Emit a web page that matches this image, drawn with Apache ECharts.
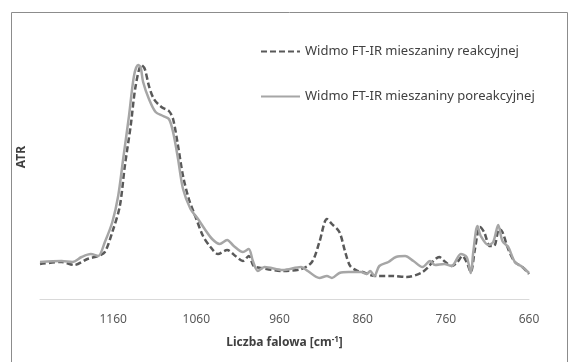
<!DOCTYPE html>
<html>
<head>
<meta charset="utf-8">
<script src="https://cdn.jsdelivr.net/npm/echarts@6/dist/echarts.min.js"></script>
<style>
html,body{margin:0;padding:0;background:#fff;}
#c{width:569px;height:362px;}
</style>
</head>
<body>
<div id="c"></div>
<script>
// Wavenumber ticks shown on the axis
var tickLabels = [1160, 1060, 960, 860, 760, 660];

// Series 1: Widmo FT-IR mieszaniny reakcyjnej (dashed)
var reakWn = [1248,1222,1207,1191,1178,1170,1161,1152,1146,1139,1133,1126,1122,1117,1111,1102,1093,1088,1082,1076,1069,1060,1052,1043,1034,1023,1013,1004,997,991,982,956,934,921,912,903,897,888,881,875,866,860,851,842,825,807,790,781,775,768,762,753,746,740,735,730,725,719,714,707,702,696,692,685,677,668,660];
var reakVal = [35,37,34,40,43,47,67,93,133,173,213,234,230,213,200,192,188,180,153,123,100,80,63,52,45,49,43,38,43,33,31,28,30,37,57,80,75,67,47,33,28,27,24,23,23,22,26,32,38,42,38,33,37,43,37,27,50,72,67,53,53,70,67,50,37,32,25];

// Series 2: Widmo FT-IR mieszaniny poreakcyjnej (solid)
var poreWn = [1248,1222,1209,1198,1187,1178,1170,1161,1154,1148,1141,1135,1130,1127,1124,1117,1109,1100,1093,1088,1082,1076,1067,1058,1050,1041,1032,1023,1015,1004,997,992,986,978,956,934,926,912,903,897,888,877,862,855,851,846,840,829,820,809,799,788,779,773,762,753,742,735,730,727,722,718,709,703,697,692,685,677,668,660];
var poreVal = [37,38,37,42,45,43,57,77,103,140,183,223,234,232,217,200,187,183,180,167,140,110,90,80,70,60,55,59,53,47,50,38,28,32,29,32,28,21,23,21,26,27,27,25,28,23,33,37,42,43,38,32,38,34,35,33,45,42,26,47,73,63,54,57,74,58,52,37,32,26];

var seriesNames = ['Widmo FT-IR mieszaniny reakcyjnej', 'Widmo FT-IR mieszaniny poreakcyjnej'];

function zip(a, b) { return a.map(function (x, i) { return [x, b[i]]; }); }

var chart = echarts.init(document.getElementById('c'), null, {renderer: 'canvas'});
var font = '"Noto Sans", "Open Sans", sans-serif';
var legendCommon = {
  left: 255, itemWidth: 39, itemHeight: 14, itemGap: 0,
  itemStyle: {opacity: 0, borderWidth: 0},
  textStyle: {fontFamily: font, fontSize: 13, color: '#404040'}
};
chart.setOption({
  animation: false,
  backgroundColor: '#ffffff',
  graphic: [{
    type: 'rect', left: 9, top: 10, z: -10,
    shape: {x: 0, y: 0, width: 556, height: 400},
    style: {fill: 'none', stroke: '#8c8c8c', lineWidth: 1}
  }],
  legend: [
    Object.assign({data: [seriesNames[0]], top: 40}, legendCommon),
    Object.assign({data: [seriesNames[1]], top: 85}, legendCommon)
  ],
  grid: {left: 40, right: 40, top: 15, bottom: 63},
  xAxis: {
    type: 'value', inverse: true, min: 660, max: 1248, interval: 100,
    axisLine: {lineStyle: {color: '#d9d9d9', width: 1}},
    axisTick: {show: false}, splitLine: {show: false},
    axisLabel: {showMaxLabel: false, margin: 15, color: '#595959', fontFamily: font, fontSize: 12,
      formatter: function (v) { return tickLabels.indexOf(v) >= 0 ? String(v) : ''; }},
    name: '{a|Liczba falowa [cm}{s|-1}{a|]}', nameLocation: 'middle', nameGap: 37,
    nameTextStyle: {rich: {
      a: {fontFamily: font, fontSize: 12, fontWeight: 'bold', color: '#404040'},
      s: {fontFamily: font, fontSize: 8, fontWeight: 'bold', color: '#404040', padding: [0, 0, 6, 0]}
    }}
  },
  yAxis: {
    type: 'value', min: 0, max: 284,
    axisLine: {show: false}, axisTick: {show: false}, splitLine: {show: false}, axisLabel: {show: false},
    name: 'ATR', nameLocation: 'middle', nameGap: 12, nameRotate: 90,
    nameTextStyle: {fontFamily: font, fontSize: 12, fontWeight: 'bold', color: '#404040'}
  },
  series: [{
    name: seriesNames[0], type: 'line', data: zip(reakWn, reakVal),
    showSymbol: false, symbol: 'none', smooth: 0.3,
    lineStyle: {color: '#595959', width: 2.5, type: [6, 3]},
    itemStyle: {color: '#595959'}
  }, {
    name: seriesNames[1], type: 'line', data: zip(poreWn, poreVal),
    showSymbol: false, symbol: 'none', smooth: 0.3,
    lineStyle: {color: '#a6a6a6', width: 2.5},
    itemStyle: {color: '#a6a6a6'}
  }]
});
</script>
</body>
</html>
